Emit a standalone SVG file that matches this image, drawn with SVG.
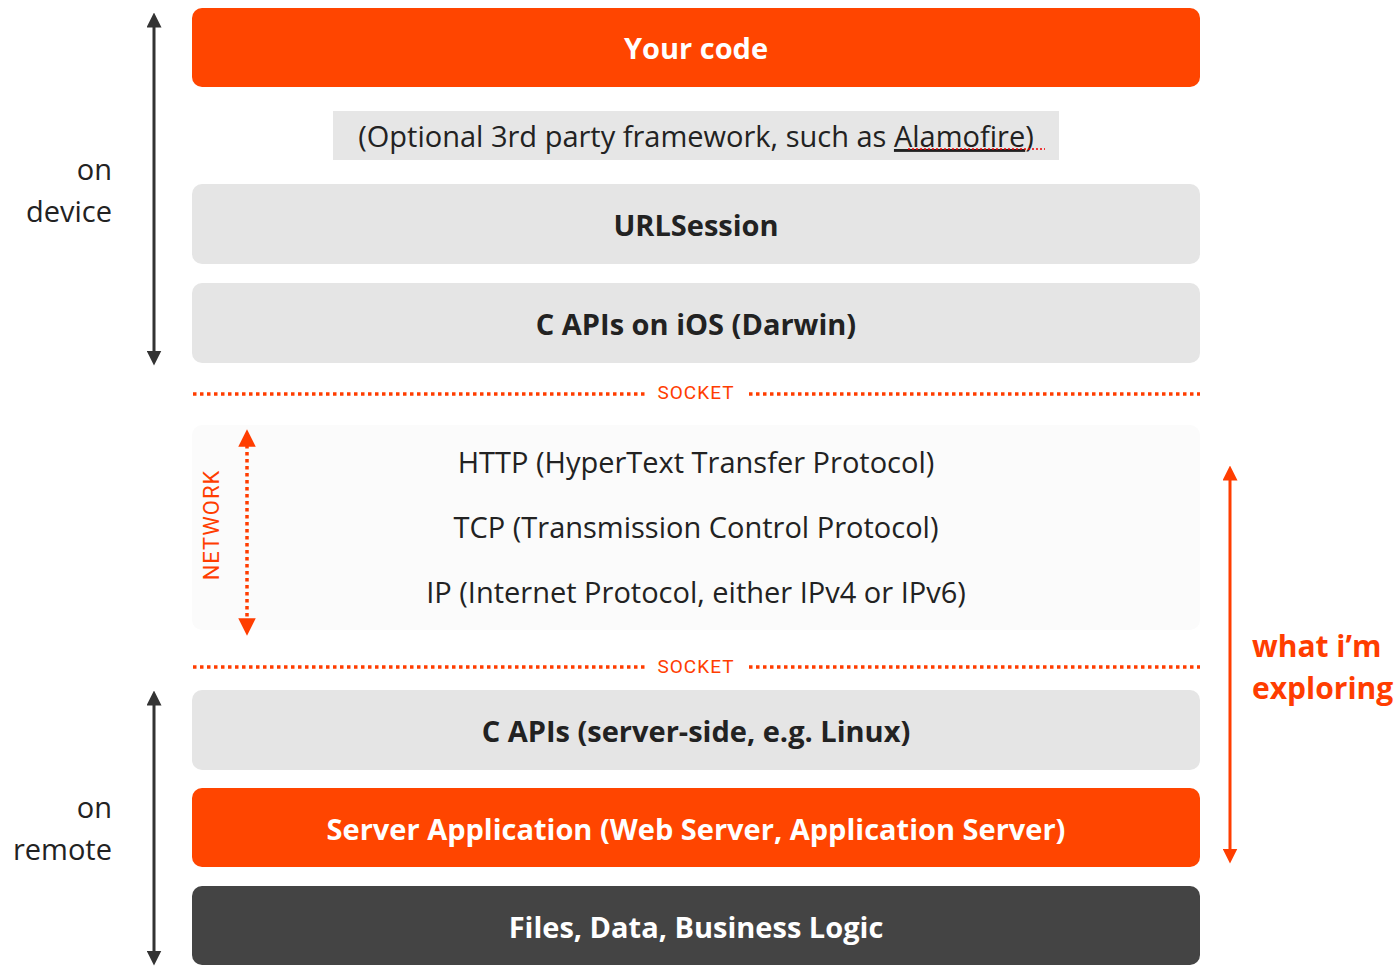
<svg xmlns="http://www.w3.org/2000/svg" width="1400" height="978" viewBox="0 0 1400 978">
<style>
.t{font-family:"Open Sans","Noto Sans",sans-serif;text-anchor:middle}
.b{font-weight:bold;font-size:29px}
.n{font-size:29px;fill:#222}
.side{font-family:"Open Sans",sans-serif;font-size:29px;fill:#222;text-anchor:end}
.sock{font-family:Roboto,sans-serif;font-size:19px;fill:#ff3d00;text-anchor:middle;letter-spacing:1px}
.dot{stroke:#ff3d00;stroke-width:3.5;stroke-dasharray:3.5 3.5;fill:none}
</style>
<defs>
<marker id="ag" viewBox="0 0 10 10" refX="5" refY="5" markerWidth="5" markerHeight="5" orient="auto-start-reverse"><path d="M0 0L10 5L0 10z" fill="#333"/></marker>
<marker id="ar" viewBox="0 0 10 10" refX="5" refY="5" markerWidth="5" markerHeight="5" orient="auto-start-reverse"><path d="M0 0L10 5L0 10z" fill="#ff3d00"/></marker>
</defs>
<rect width="1400" height="978" fill="#fff"/>
<g id="yourcode"><rect x="192" y="8" width="1008" height="79" rx="10" fill="#ff4500"/><text class="t b" x="696" y="59" fill="#fff">Your code</text></g>
<g id="optional"><rect x="333" y="111" width="726" height="49" fill="#e6e6e6"/><text class="t n" x="696" y="147">(Optional 3rd party framework, such as <tspan text-decoration="underline">Alamofire</tspan>)</text><line x1="908" y1="149" x2="1045" y2="149" stroke="#e00" stroke-width="1.5" stroke-dasharray="2 2"/></g>
<g id="urlsession"><rect x="192" y="184" width="1008" height="80" rx="10" fill="#e5e5e5"/><text class="t b" x="696" y="236" fill="#222">URLSession</text></g>
<g id="capios"><rect x="192" y="283" width="1008" height="80" rx="10" fill="#e5e5e5"/><text class="t b" x="696" y="335" fill="#222">C APIs on iOS (Darwin)</text></g>
<g id="network"><rect x="192" y="425" width="1008" height="205" rx="10" fill="#fbfbfb"/>
<text class="t n" x="696" y="473">HTTP (HyperText Transfer Protocol)</text>
<text class="t n" x="696" y="538">TCP (Transmission Control Protocol)</text>
<text class="t n" x="696" y="603">IP (Internet Protocol, either IPv4 or IPv6)</text>
<text class="sock" x="0" y="0" transform="translate(219 525) rotate(-90)" style="font-size:22px">NETWORK</text></g>
<g id="capserver"><rect x="192" y="690" width="1008" height="80" rx="10" fill="#e5e5e5"/><text class="t b" x="696" y="742" fill="#222">C APIs (server-side, e.g. Linux)</text></g>
<g id="serverapp"><rect x="192" y="788" width="1008" height="79" rx="10" fill="#ff4500"/><text class="t b" x="696" y="840" fill="#fff">Server Application (Web Server, Application Server)</text></g>
<g id="files"><rect x="192" y="886" width="1008" height="79" rx="10" fill="#444"/><text class="t b" x="696" y="938" fill="#fff">Files, Data, Business Logic</text></g>
<g id="labels">
<text class="side" x="112" y="180">on</text><text class="side" x="112" y="222">device</text>
<text class="side" x="112" y="818">on</text><text class="side" x="112" y="860">remote</text>
<text x="1252" y="657" font-family="'Open Sans',sans-serif" font-weight="bold" font-size="30" fill="#ff3d00">what i’m</text>
<text x="1252" y="699" font-family="'Open Sans',sans-serif" font-weight="bold" font-size="30" fill="#ff3d00">exploring</text>
<text class="sock" x="696" y="399">SOCKET</text>
<text class="sock" x="696" y="673">SOCKET</text>
</g>
<g id="connectors">
<line class="dot" x1="193" y1="394" x2="645" y2="394"/><line class="dot" x1="749" y1="394" x2="1200" y2="394"/>
<line class="dot" x1="193" y1="667" x2="645" y2="667"/><line class="dot" x1="749" y1="667" x2="1200" y2="667"/>
<line class="dot" x1="247" y1="438" x2="247" y2="627" marker-start="url(#ar)" marker-end="url(#ar)"/>
<line x1="154" y1="20" x2="154" y2="358" stroke="#333" stroke-width="3" marker-start="url(#ag)" marker-end="url(#ag)"/>
<line x1="154" y1="698" x2="154" y2="958" stroke="#333" stroke-width="3" marker-start="url(#ag)" marker-end="url(#ag)"/>
<line x1="1230" y1="473" x2="1230" y2="856" stroke="#ff3d00" stroke-width="3" marker-start="url(#ar)" marker-end="url(#ar)"/>
</g>
</svg>
